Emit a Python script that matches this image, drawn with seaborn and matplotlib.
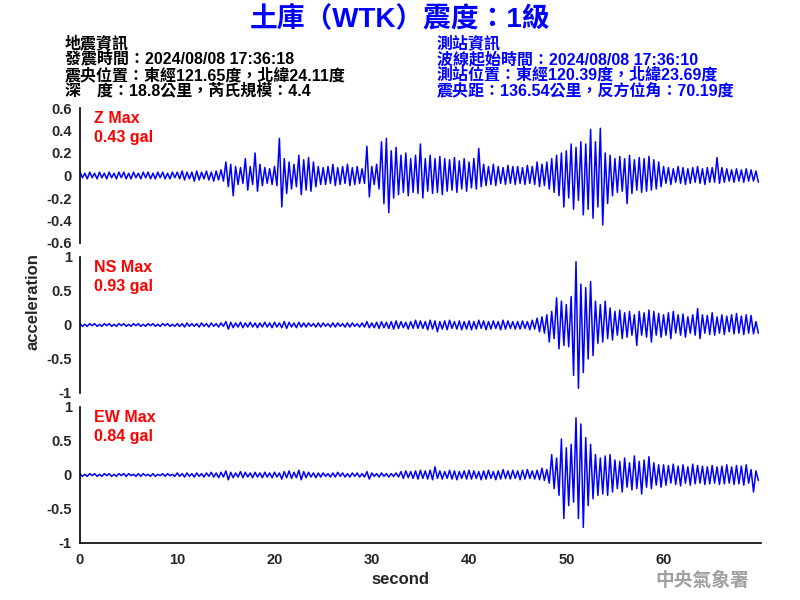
import numpy as np
import pandas as pd
import matplotlib
matplotlib.use("Agg")
import matplotlib.pyplot as plt
import seaborn as sns

sns.set_style("white")
plt.rcParams['font.family'] = ['Liberation Sans', 'Noto Sans CJK TC', 'DejaVu Sans']

# ---- data: per 0.5 s bin, upper and lower envelope ----
bin_step = 0.5

z_upper = [0.03,0.02,0.03,0.02,0.03,0.02,0.03,0.02,0.03,0.03,
           0.02,0.03,0.02,0.03,0.03,0.02,0.03,0.03,0.02,0.03,
           0.03,0.04,0.03,0.03,0.04,0.03,0.04,0.03,0.04,0.05,
           0.12,0.10,0.08,0.07,0.15,0.08,0.20,0.10,0.07,0.06,
           0.08,0.33,0.15,0.12,0.10,0.18,0.14,0.16,0.12,0.08,
           0.07,0.08,0.10,0.07,0.08,0.10,0.07,0.08,0.06,0.26,
           0.08,0.10,0.30,0.33,0.22,0.25,0.18,0.20,0.15,0.18,
           0.28,0.15,0.18,0.15,0.17,0.15,0.14,0.16,0.13,0.15,
           0.12,0.15,0.24,0.10,0.08,0.10,0.08,0.07,0.09,0.08,
           0.08,0.07,0.09,0.08,0.12,0.10,0.12,0.15,0.18,0.20,
           0.22,0.28,0.25,0.30,0.28,0.41,0.30,0.42,0.20,0.18,
           0.15,0.17,0.15,0.18,0.14,0.16,0.15,0.17,0.14,0.12,
           0.08,0.07,0.06,0.08,0.07,0.06,0.07,0.08,0.06,0.07,
           0.07,0.16,0.07,0.06,0.05,0.06,0.05,0.06,0.05,0.04]
z_lower = [-0.02,-0.03,-0.02,-0.03,-0.02,-0.03,-0.02,-0.03,-0.02,-0.03,
           -0.03,-0.02,-0.03,-0.02,-0.03,-0.03,-0.02,-0.03,-0.03,-0.02,
           -0.03,-0.04,-0.03,-0.05,-0.04,-0.03,-0.04,-0.05,-0.04,-0.05,
           -0.10,-0.18,-0.08,-0.07,-0.13,-0.08,-0.14,-0.09,-0.07,-0.08,
           -0.09,-0.28,-0.16,-0.12,-0.10,-0.17,-0.13,-0.14,-0.10,-0.08,
           -0.08,-0.07,-0.09,-0.08,-0.07,-0.09,-0.08,-0.07,-0.07,-0.19,
           -0.08,-0.12,-0.25,-0.33,-0.20,-0.17,-0.15,-0.18,-0.15,-0.16,
           -0.20,-0.14,-0.16,-0.15,-0.17,-0.14,-0.13,-0.15,-0.12,-0.14,
           -0.11,-0.12,-0.10,-0.09,-0.08,-0.09,-0.07,-0.08,-0.07,-0.08,
           -0.07,-0.08,-0.07,-0.08,-0.10,-0.09,-0.12,-0.15,-0.18,-0.28,
           -0.20,-0.30,-0.22,-0.35,-0.30,-0.38,-0.28,-0.44,-0.25,-0.18,
           -0.15,-0.14,-0.25,-0.16,-0.13,-0.15,-0.14,-0.13,-0.12,-0.10,
           -0.07,-0.08,-0.06,-0.07,-0.08,-0.07,-0.06,-0.07,-0.08,-0.06,
           -0.06,-0.07,-0.06,-0.05,-0.06,-0.05,-0.06,-0.05,-0.05,-0.06]

ns_upper = [0.02,0.01,0.02,0.02,0.01,0.02,0.02,0.01,0.02,0.02,
            0.01,0.02,0.02,0.01,0.02,0.02,0.01,0.02,0.02,0.01,
            0.02,0.02,0.03,0.02,0.02,0.03,0.02,0.03,0.02,0.03,
            0.05,0.04,0.03,0.04,0.03,0.04,0.03,0.03,0.04,0.03,
            0.04,0.03,0.05,0.04,0.03,0.04,0.03,0.03,0.02,0.03,
            0.03,0.02,0.03,0.03,0.02,0.03,0.03,0.02,0.03,0.05,
            0.03,0.04,0.05,0.04,0.05,0.06,0.05,0.04,0.05,0.07,
            0.06,0.05,0.07,0.06,0.05,0.06,0.07,0.05,0.06,0.05,
            0.06,0.05,0.07,0.06,0.05,0.06,0.05,0.07,0.06,0.05,
            0.05,0.06,0.05,0.07,0.10,0.12,0.15,0.20,0.40,0.35,
            0.30,0.42,0.93,0.60,0.55,0.64,0.35,0.30,0.35,0.25,
            0.20,0.22,0.18,0.20,0.15,0.20,0.18,0.22,0.20,0.17,
            0.15,0.18,0.20,0.15,0.16,0.12,0.15,0.24,0.15,0.14,
            0.18,0.12,0.15,0.13,0.15,0.17,0.13,0.15,0.14,0.05]
ns_lower = [-0.02,-0.02,-0.01,-0.02,-0.02,-0.01,-0.02,-0.02,-0.01,-0.02,
            -0.02,-0.01,-0.02,-0.02,-0.01,-0.02,-0.02,-0.01,-0.02,-0.02,
            -0.02,-0.03,-0.02,-0.02,-0.03,-0.02,-0.03,-0.02,-0.03,-0.02,
            -0.06,-0.04,-0.03,-0.04,-0.03,-0.03,-0.04,-0.03,-0.03,-0.04,
            -0.03,-0.04,-0.05,-0.03,-0.04,-0.03,-0.03,-0.02,-0.03,-0.03,
            -0.02,-0.03,-0.03,-0.02,-0.03,-0.03,-0.02,-0.03,-0.03,-0.04,
            -0.04,-0.05,-0.04,-0.05,-0.06,-0.05,-0.04,-0.06,-0.05,-0.05,
            -0.05,-0.07,-0.06,-0.10,-0.06,-0.07,-0.05,-0.06,-0.07,-0.06,
            -0.07,-0.06,-0.05,-0.07,-0.06,-0.05,-0.07,-0.06,-0.05,-0.06,
            -0.06,-0.05,-0.07,-0.06,-0.10,-0.12,-0.25,-0.20,-0.35,-0.30,
            -0.32,-0.74,-0.93,-0.70,-0.50,-0.45,-0.27,-0.25,-0.20,-0.22,
            -0.15,-0.20,-0.18,-0.15,-0.30,-0.15,-0.18,-0.25,-0.15,-0.18,
            -0.15,-0.20,-0.12,-0.15,-0.18,-0.12,-0.15,-0.20,-0.12,-0.14,
            -0.15,-0.12,-0.14,-0.10,-0.13,-0.12,-0.14,-0.12,-0.13,-0.12]

ew_upper = [0.02,0.01,0.02,0.02,0.01,0.02,0.02,0.01,0.02,0.02,
            0.02,0.01,0.02,0.02,0.01,0.02,0.01,0.02,0.02,0.01,
            0.03,0.02,0.03,0.02,0.03,0.02,0.03,0.04,0.03,0.04,
            0.06,0.04,0.03,0.05,0.04,0.03,0.04,0.03,0.04,0.03,
            0.04,0.03,0.05,0.06,0.04,0.07,0.05,0.04,0.03,0.03,
            0.03,0.02,0.03,0.04,0.03,0.02,0.03,0.03,0.02,0.05,
            0.03,0.02,0.03,0.02,0.02,0.03,0.05,0.06,0.05,0.06,
            0.07,0.06,0.07,0.12,0.06,0.05,0.07,0.06,0.05,0.06,
            0.07,0.06,0.05,0.06,0.07,0.05,0.06,0.08,0.06,0.07,
            0.06,0.07,0.08,0.06,0.07,0.10,0.08,0.30,0.25,0.53,
            0.40,0.45,0.84,0.75,0.55,0.45,0.30,0.25,0.28,0.30,
            0.22,0.20,0.25,0.18,0.28,0.20,0.22,0.27,0.18,0.15,
            0.15,0.14,0.16,0.13,0.15,0.12,0.16,0.14,0.13,0.12,
            0.14,0.12,0.13,0.15,0.12,0.14,0.13,0.15,0.08,0.06]
ew_lower = [-0.02,-0.02,-0.01,-0.02,-0.02,-0.01,-0.02,-0.02,-0.01,-0.02,
            -0.01,-0.02,-0.02,-0.01,-0.02,-0.02,-0.01,-0.02,-0.01,-0.02,
            -0.02,-0.03,-0.02,-0.03,-0.02,-0.03,-0.02,-0.03,-0.04,-0.03,
            -0.07,-0.04,-0.03,-0.04,-0.03,-0.04,-0.03,-0.04,-0.03,-0.04,
            -0.03,-0.06,-0.04,-0.05,-0.04,-0.07,-0.04,-0.03,-0.04,-0.03,
            -0.02,-0.03,-0.03,-0.02,-0.03,-0.03,-0.02,-0.03,-0.03,-0.06,
            -0.02,-0.03,-0.02,-0.03,-0.02,-0.03,-0.05,-0.04,-0.05,-0.06,
            -0.05,-0.06,-0.07,-0.05,-0.06,-0.05,-0.06,-0.07,-0.05,-0.06,
            -0.06,-0.05,-0.07,-0.06,-0.05,-0.07,-0.06,-0.05,-0.06,-0.05,
            -0.07,-0.06,-0.05,-0.06,-0.07,-0.08,-0.12,-0.20,-0.30,-0.64,
            -0.45,-0.40,-0.64,-0.77,-0.45,-0.35,-0.30,-0.28,-0.30,-0.25,
            -0.20,-0.25,-0.18,-0.22,-0.20,-0.28,-0.18,-0.20,-0.15,-0.18,
            -0.15,-0.12,-0.14,-0.16,-0.12,-0.15,-0.13,-0.12,-0.14,-0.13,
            -0.12,-0.14,-0.13,-0.12,-0.14,-0.13,-0.15,-0.12,-0.25,-0.08]

channels = ["Z", "NS", "EW"]
max_labels = ["0.43 gal", "0.93 gal", "0.84 gal"]
y_limits = [0.6, 1.0, 1.0]
y_ticks = [[0.6, 0.4, 0.2, 0, -0.2, -0.4, -0.6], [1, 0.5, 0, -0.5, -1], [1, 0.5, 0, -0.5, -1]]
y_ticklabels = [["0.6", "0.4", "0.2", "0", "-0.2", "-0.4", "-0.6"],
                ["1", "0.5", "0", "-0.5", "-1"], ["1", "0.5", "0", "-0.5", "-1"]]
x_ticks = [0, 10, 20, 30, 40, 50, 60]

title = "土庫（WTK）震度：1級"
quake_info = ["地震資訊", "發震時間：2024/08/08 17:36:18",
              "震央位置：東經121.65度，北緯24.11度", "深　度：18.8公里，芮氏規模：4.4"]
station_info = ["測站資訊", "波線起始時間：2024/08/08 17:36:10",
                "測站位置：東經120.39度，北緯23.69度", "震央距：136.54公里，反方位角：70.19度"]


def trace(upper, lower):
    t = []
    v = []
    for i in range(len(upper)):
        t += [i * bin_step, i * bin_step + bin_step / 2]
        v += [upper[i], lower[i]]
    return pd.DataFrame({"t": t, "acc": v})


traces = [trace(z_upper, z_lower), trace(ns_upper, ns_lower), trace(ew_upper, ew_lower)]

fig = plt.figure(figsize=(8, 6), dpi=100)
positions = [[0.1, 0.595, 0.851, 0.225], [0.1, 0.345, 0.851, 0.2267], [0.1, 0.095, 0.851, 0.2267]]
tick_font = dict(fontsize=10.5, fontweight="bold", family=["Liberation Sans"])

for k in range(3):
    ax = fig.add_axes(positions[k])
    sns.lineplot(data=traces[k], x="t", y="acc", ax=ax, color="#0000FF",
                 linewidth=1.1, sort=False, estimator=None)
    ax.set_xlim(0, 70)
    ax.set_ylim(-y_limits[k], y_limits[k])
    ax.set_yticks(y_ticks[k])
    ax.set_yticklabels(y_ticklabels[k], **tick_font)
    ax.set_xlabel("")
    ax.set_ylabel("")
    for s in ["top", "right"]:
        ax.spines[s].set_visible(False)
    ax.spines["left"].set_color("black")
    ax.spines["left"].set_linewidth(1.2)
    ax.tick_params(axis="y", direction="out", length=4.5, width=1.2, color="black", pad=1.5)
    if k < 2:
        ax.spines["bottom"].set_visible(False)
        ax.set_xticks([])
    else:
        ax.spines["bottom"].set_color("black")
        ax.spines["bottom"].set_linewidth(1.2)
        ax.set_xticks(x_ticks)
        ax.set_xticklabels([str(x) for x in x_ticks], **tick_font)
        ax.tick_params(axis="x", direction="out", length=4.5, width=1.2, color="black", pad=3)
    ax.text(0.02, 0.925, channels[k] + " Max", transform=ax.transAxes, color="red",
            fontsize=11.5, fontweight="bold", va="center", ha="left")
    ax.text(0.02, 0.78, max_labels[k], transform=ax.transAxes, color="red",
            fontsize=11.5, fontweight="bold", va="center", ha="left")

fig.text(0.5, 0.968, title, ha="center", va="center", color="#0000FF",
         fontsize=20, fontweight="bold")
line_y = [43, 59, 75, 91]
for i in range(4):
    fig.text(65 / 800, 1 - line_y[i] / 600, quake_info[i], ha="left", va="center",
             color="black", fontsize=11.5, fontweight="bold")
    fig.text(437 / 800, 1 - line_y[i] / 600, station_info[i], ha="left", va="center",
             color="#0000FF", fontsize=11.5, fontweight="bold")

fig.text(33 / 800, 1 - 302 / 600, "acceleration", rotation=90, ha="center", va="center",
         fontsize=12, fontweight="bold")
fig.text(400 / 800, 1 - 580 / 600, "second", ha="center", va="center",
         fontsize=12, fontweight="bold")
fig.text(702 / 800, 1 - 581 / 600, "中央氣象署", ha="center", va="center",
         fontsize=13.5, fontweight="bold", color="#A0A0A0")

fig.savefig("out.png", dpi=100)
